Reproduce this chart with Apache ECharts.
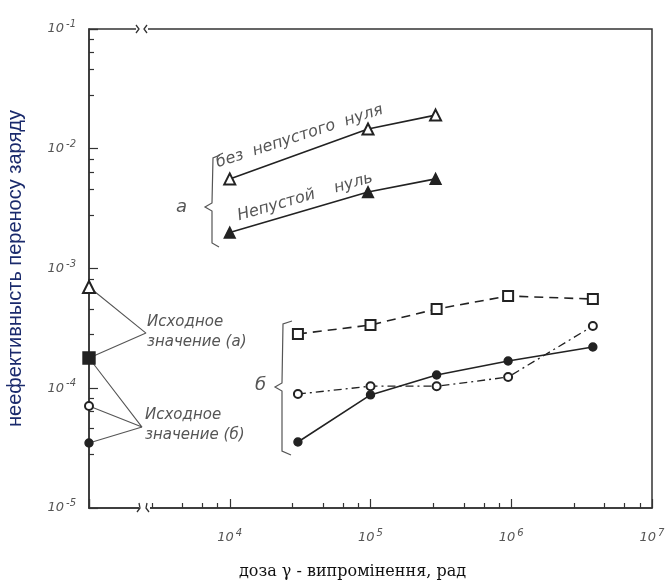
<!DOCTYPE html>
<html lang="uk">
<head>
<meta charset="UTF-8">
<title>Неефективність переносу заряду</title>
<script src="https://cdn.jsdelivr.net/npm/echarts@6/dist/echarts.min.js"></script>
<style>
  html, body { margin: 0; padding: 0; background: #fff; }
  #main { width: 668px; height: 585px; }
</style>
</head>
<body>
<div id="main"></div>
<script>
// дані (доза, рад / неефективність)
var doseA = [1.0e4, 9.6e4, 2.9e5];
var noFatZero = [5.6e-3, 1.46e-2, 1.91e-2];   // без непустого нуля
var fatZero = [2.0e-3, 4.35e-3, 5.6e-3];      // непустой нуль

var doseB = [3.05e4, 1.0e5, 2.95e5, 9.5e5, 3.8e6];
var b1 = [2.84e-4, 3.37e-4, 4.59e-4, 5.89e-4, 5.56e-4];
var b2 = [8.95e-5, 1.04e-4, 1.04e-4, 1.24e-4, 3.31e-4];
var b3 = [3.56e-5, 8.8e-5, 1.29e-4, 1.69e-4, 2.21e-4];

// исходные значения (на оси ординат)
var initDose = 1e3;
var initA = [7.0e-4, 1.79e-4];
var initB = [7.1e-5, 3.49e-5];
var joinA = [2540, 2.89e-4];
var joinB = [2380, 4.74e-5];

var xTicks = [1e3, 1e4, 1e5, 1e6, 1e7];
var yTicks = [1e-5, 1e-4, 1e-3, 1e-2, 1e-1];

function pairs(xs, ys) {
  var out = [];
  for (var i = 0; i < ys.length; i++) out.push([xs[i], ys[i]]);
  return out;
}

function powLabel(v, hideMin) {
  var e = Math.round(Math.log10(v));
  if (hideMin && v <= xTicks[0]) return '';
  return '{b|10}{s|' + (e < 0 ? '-' + (-e) : e) + '}';
}

var ink = '#222';
var grey = '#555';
var labelRich = {
  b: { fontSize: 13, fontStyle: 'italic', color: grey, fontFamily: 'DejaVu Sans' },
  s: { fontSize: 10, fontStyle: 'italic', color: grey, fontFamily: 'DejaVu Sans', verticalAlign: 'top', padding: [0, 0, 9, 2] }
};

var myChart = echarts.init(document.getElementById('main'));

function lineSeries(data, symbol, size, type, width) {
  return {
    type: 'line', data: data, symbol: symbol, symbolSize: size,
    clip: false, z: 5,
    lineStyle: { color: ink, width: width || 1.6, type: type || 'solid' },
    itemStyle: { color: ink, borderColor: ink, borderWidth: 1.4 }
  };
}

function leader(data) {
  return {
    type: 'line', data: data, symbol: 'none', clip: false, z: 3,
    lineStyle: { color: grey, width: 1.1 }
  };
}

var handFont = 'italic 15px "DejaVu Sans"';

var option = {
  animation: false,
  backgroundColor: '#fff',
  grid: { left: 89, top: 29, right: 16, bottom: 77, show: true, borderColor: '#333', borderWidth: 1.5, outerBoundsMode: 'none', containLabel: false },
  xAxis: {
    type: 'log', min: xTicks[0], max: xTicks[4], logBase: 10,
    name: 'доза γ - випромінення, рад',
    nameLocation: 'middle', nameGap: 56,
    nameTextStyle: { fontFamily: 'DejaVu Serif', fontSize: 16, color: '#111', padding: [0, 36, 0, 0] },
    axisLine: { lineStyle: { color: '#333', width: 1.5 } },
    axisTick: { inside: true, length: 9, lineStyle: { color: '#333', width: 1.2 } },
    minorTick: { show: true, splitNumber: 5, length: 5, lineStyle: { color: '#333', width: 1.2 } },
    splitLine: { show: false },
    axisLabel: { margin: 20, formatter: function (v) { return powLabel(v, true); }, rich: labelRich }
  },
  yAxis: {
    type: 'log', min: yTicks[0], max: yTicks[4], logBase: 10,
    name: 'неефективнысть переносу заряду',
    nameLocation: 'middle', nameGap: 64, nameRotate: 90,
    nameTextStyle: { fontFamily: 'Liberation Sans', fontSize: 20, color: '#1a2a6c' },
    axisLine: { lineStyle: { color: '#333', width: 1.5 } },
    axisTick: { inside: true, length: 9, lineStyle: { color: '#333', width: 1.2 } },
    minorTick: { show: true, splitNumber: 5, length: 5, lineStyle: { color: '#333', width: 1.2 } },
    splitLine: { show: false },
    axisLabel: { margin: 13, formatter: function (v) { return powLabel(v, false); }, rich: labelRich }
  },
  series: [
    leader([[initDose, initA[0]], joinA, [initDose, initA[1]]]),
    leader([[initDose, initA[1]], joinB, [initDose, initB[0]]]),
    leader([joinB, [initDose, initB[1]]]),
    lineSeries(pairs(doseA, noFatZero), 'emptyTriangle', 11),
    lineSeries(pairs(doseA, fatZero), 'triangle', 11),
    lineSeries(pairs(doseB, b1), 'emptyRect', 10, [9, 6]),
    lineSeries(pairs(doseB, b2), 'emptyCircle', 8, [8, 4, 2, 4], 1.3),
    lineSeries(pairs(doseB, b3), 'circle', 8),
    lineSeries([[initDose, initA[0]]], 'emptyTriangle', 12),
    lineSeries([[initDose, initA[1]]], 'rect', 12),
    lineSeries([[initDose, initB[0]]], 'emptyCircle', 8),
    lineSeries([[initDose, initB[1]]], 'circle', 8)
  ],
  graphic: [
    // разрывы оси абсцисс
    { type: 'rect', shape: { x: 136, y: 25, width: 12, height: 8 }, style: { fill: '#fff' }, z: 50 },
    { type: 'polyline', shape: { points: [[136, 25], [139, 29], [136, 33]] }, style: { stroke: '#333', lineWidth: 1.3, fill: null }, z: 51 },
    { type: 'polyline', shape: { points: [[147, 25], [144, 29], [147, 33]] }, style: { stroke: '#333', lineWidth: 1.3, fill: null }, z: 51 },
    { type: 'rect', shape: { x: 139, y: 501, width: 11, height: 12 }, style: { fill: '#fff' }, z: 50 },
    { type: 'polyline', shape: { points: [[137, 512], [140, 508], [139, 503]] }, style: { stroke: '#333', lineWidth: 1.3, fill: null }, z: 51 },
    { type: 'polyline', shape: { points: [[149, 512], [146, 508], [147, 503]] }, style: { stroke: '#333', lineWidth: 1.3, fill: null }, z: 51 },
    // подписи кривых
    { type: 'text', x: 219, y: 171, rotation: 18 * Math.PI / 180, z: 60,
      style: { text: 'без  непустого  нуля', fill: grey, font: 'italic 16px "DejaVu Sans"', verticalAlign: 'bottom' } },
    { type: 'text', x: 240, y: 224, rotation: 16 * Math.PI / 180, z: 60,
      style: { text: 'Непустой    нуль', fill: grey, font: 'italic 16px "DejaVu Sans"', verticalAlign: 'bottom' } },
    { type: 'text', x: 176, y: 207, z: 60, style: { text: 'а', fill: grey, font: 'italic 18px "DejaVu Sans"', verticalAlign: 'middle' } },
    { type: 'text', x: 255, y: 385, z: 60, style: { text: 'б', fill: grey, font: 'italic 18px "DejaVu Sans"', verticalAlign: 'middle' } },
    { type: 'text', x: 147, y: 322, z: 60, style: { text: 'Исходное', fill: grey, font: handFont, verticalAlign: 'middle' } },
    { type: 'text', x: 147, y: 342, z: 60, style: { text: 'значение (а)', fill: grey, font: handFont, verticalAlign: 'middle' } },
    { type: 'text', x: 145, y: 415, z: 60, style: { text: 'Исходное', fill: grey, font: handFont, verticalAlign: 'middle' } },
    { type: 'text', x: 145, y: 435, z: 60, style: { text: 'значение (б)', fill: grey, font: handFont, verticalAlign: 'middle' } },
    // фигурные скобки групп
    { type: 'polyline', z: 60, style: { stroke: grey, lineWidth: 1.2, fill: null },
      shape: { points: [[220, 155], [213, 158], [212, 203], [205, 207], [212, 211], [212, 243], [219, 247]] } },
    { type: 'polyline', z: 60, style: { stroke: grey, lineWidth: 1.2, fill: null },
      shape: { points: [[292, 321], [283, 324], [282, 383], [275, 387], [282, 391], [282, 451], [291, 455]] } }
  ]
};

myChart.setOption(option);
</script>
</body>
</html>
